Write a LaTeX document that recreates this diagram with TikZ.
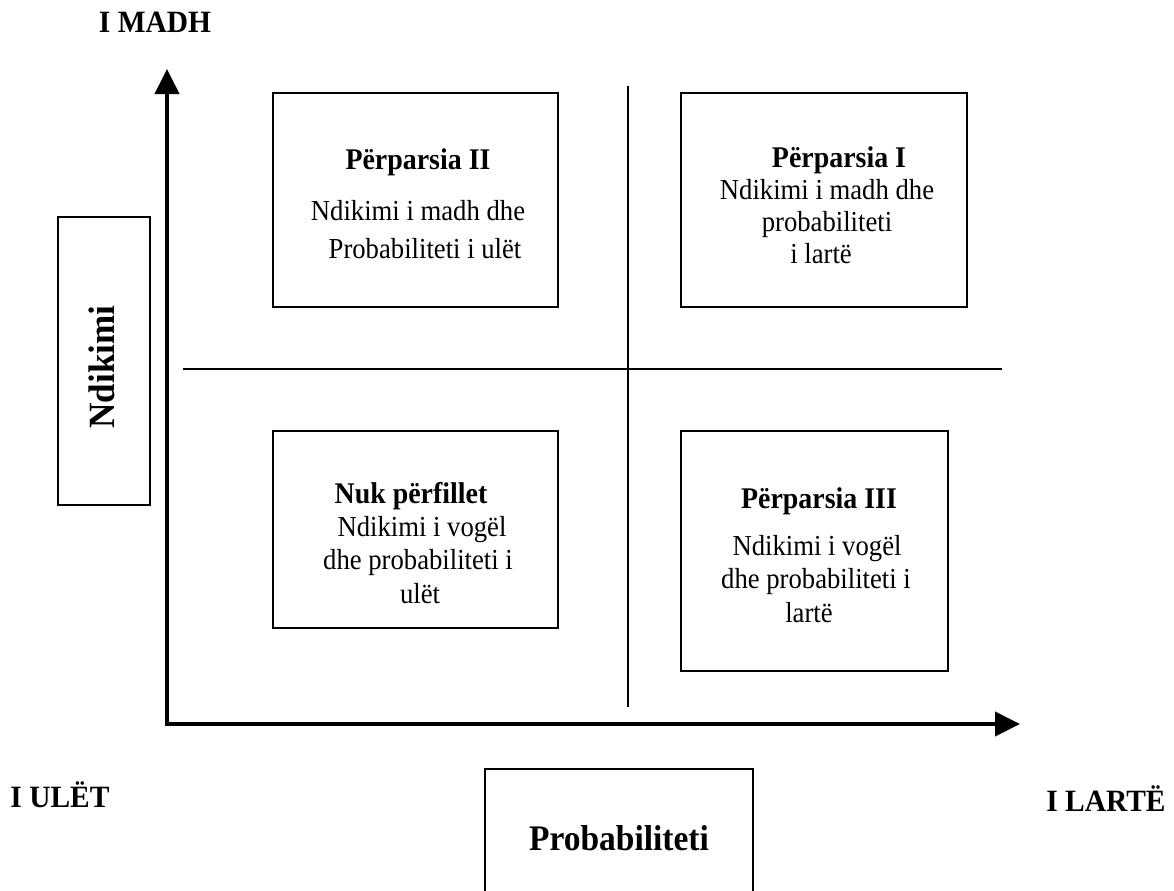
\documentclass[tikz,border=0pt]{standalone}
\usepackage{fontspec}
\setmainfont{Liberation Serif}
\usetikzlibrary{arrows.meta,fit}
\begin{document}
\begin{tikzpicture}[x=0.5pt,y=-0.5pt,
  box/.style={draw, line width=1pt, inner sep=0pt},
  ttl/.style={font=\fontsize{15}{17}\selectfont\bfseries, xscale=0.93, inner sep=0pt, anchor=base},
  body/.style={font=\fontsize{14.5}{17}\selectfont, xscale=0.92, inner sep=0pt, anchor=base},
  corner/.style={font=\fontsize{15.5}{18}\selectfont\bfseries, xscale=0.95, inner sep=0pt, anchor=base},
  axis/.style={line width=2pt, -{Triangle[length=12.5pt,width=12pt]}},
  divider/.style={line width=1pt}]
\useasboundingbox (0,0) rectangle (1174,890);

% axes
\coordinate (o) at (167,725);
\coordinate (ox) at (165,724);
\coordinate (ytip) at (167,69);
\coordinate (xtip) at (1020,724);
\draw[axis] (o) -- (ytip);
\draw[axis] (ox) -- (xtip);

% dividers
\coordinate (vtop) at (628,86);
\coordinate (vbot) at (628,707);
\coordinate (hl) at (183,369);
\coordinate (hr) at (1002,369);
\draw[divider] (vtop) -- (vbot);
\draw[divider] (hl) -- (hr);

% quadrant boxes
\node[box, fit={(273,93) (558,307)}] (tlbox) {};
\node[box, fit={(681,93) (967,307)}] (trbox) {};
\node[box, fit={(273,431) (558,628)}] (blbox) {};
\node[box, fit={(681,431) (948,671)}] (brbox) {};
\node[box, fit={(58,217) (150,505)}] (ndbox) {};
\node[box, fit={(485,769) (753,910)}] (prbox) {};

% top-left
\node[ttl] (tl0) at (418,169) {Përparsia II};
\node[body] (tl1) at (418,220) {Ndikimi i madh dhe};
\node[body] (tl2) at (425,258) {Probabiliteti i ulët};

% top-right
\node[ttl] (tr0) at (839,167) {Përparsia I};
\node[body] (tr1) at (827,199) {Ndikimi i madh dhe};
\node[body] (tr2) at (827,231) {probabiliteti};
\node[body] (tr3) at (821,263) {i lartë};

% bottom-left
\node[ttl] (bl0) at (411,503) {Nuk përfillet};
\node[body] (bl1) at (422,536) {Ndikimi i vogël};
\node[body] (bl2) at (418,569) {dhe probabiliteti i};
\node[body] (bl3) at (420,603) {ulët};

% bottom-right
\node[ttl] (br0) at (819,508) {Përparsia III};
\node[body] (br1) at (817,555) {Ndikimi i vogël};
\node[body] (br2) at (816,588) {dhe probabiliteti i};
\node[body] (br3) at (809,622) {lartë};

% axis labels
\node[rotate=90, font=\fontsize{18.5}{20}\selectfont\bfseries, xscale=0.95, inner sep=0pt] (ndl) at (102,367) {Ndikimi};
\node[font=\fontsize{18}{20}\selectfont\bfseries, xscale=0.93, inner sep=0pt, anchor=base] (prl) at (619,850) {Probabiliteti};

\node[corner] (madh) at (155,32) {I MADH};
\node[corner] (ulet) at (60,807) {I ULËT};
\node[corner] (larte) at (1106,811) {I LARTË};
\end{tikzpicture}
\end{document}
